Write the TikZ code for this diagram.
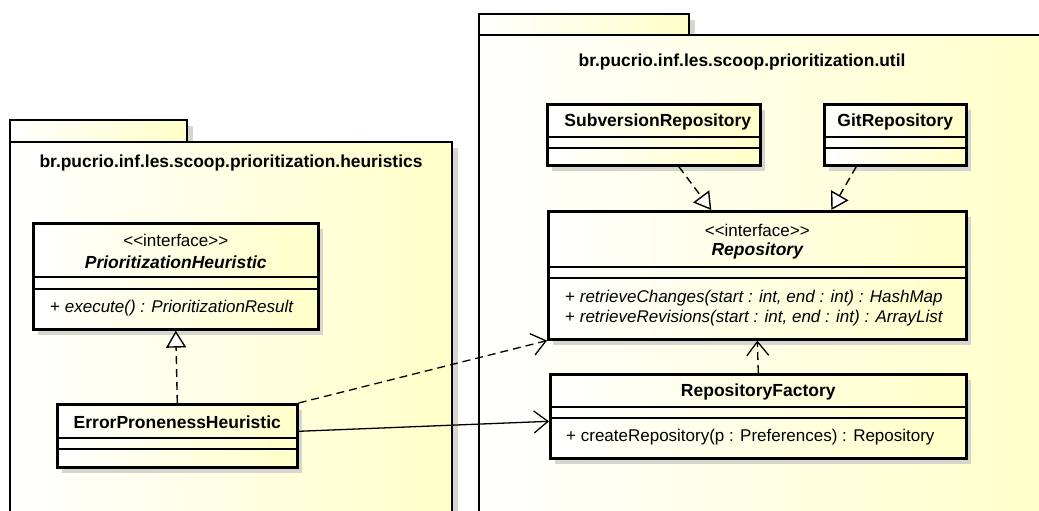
\documentclass[tikz,border=0pt]{standalone}
\usepackage{fontspec}
\setmainfont{Liberation Sans}
\usetikzlibrary{arrows.meta,shadows}
\definecolor{umlyellow}{RGB}{255,255,200}
\definecolor{shadowgray}{RGB}{214,214,206}
\tikzset{
  pkgbox/.style={draw, line width=2.2pt, left color=white, right color=umlyellow},
  pkgshadow/.style={fill=shadowgray},
  ptitle/.style={font=\fontsize{17.4}{20}\selectfont\bfseries},
  classbox/.style={draw, line width=2.6pt, left color=white, right color=umlyellow, anchor=north west, inner sep=0pt,
    drop shadow={shadow xshift=5pt, shadow yshift=-6pt, fill=shadowgray, opacity=1}},
  sepline/.style={line width=1.1pt},
  cname/.style={font=\fontsize{17.5}{20}\selectfont\bfseries},
  iname/.style={font=\fontsize{17.5}{20}\selectfont\bfseries\itshape},
  stereo/.style={font=\fontsize{17}{20}\selectfont},
  member/.style={anchor=west, inner sep=0pt, font=\fontsize{17}{20}\selectfont},
  realize/.style={line width=1.4pt, dash pattern=on 8pt off 5pt, -{Triangle[open, length=17pt, width=20pt, fill=white]}},
  depend/.style={line width=1.3pt, dash pattern=on 8pt off 5pt, -{Straight Barb[length=14pt, width=22pt]}},
  assoc/.style={line width=1.3pt, -{Straight Barb[length=14pt, width=22pt]}}
}
\begin{document}
\begin{tikzpicture}[x=1pt,y=-1pt]
  \useasboundingbox (0,0) rectangle (1039,511);
  \clip (0,0) rectangle (1039,511);
  % package heuristics
  \fill[pkgshadow] (16,126) rectangle (193,148);
  \fill[pkgshadow] (16,148) rectangle (458,540);
  \draw[pkgbox] (10,120) rectangle (187,142);
  \draw[pkgbox] (10,142) rectangle (452,540);
  \node[ptitle] (heurTitle) at (231,163) {br.pucrio.inf.les.scoop.prioritization.heuristics};
  % package util
  \fill[pkgshadow] (485,20) rectangle (695,41);
  \fill[pkgshadow] (485,41) rectangle (1070,540);
  \draw[pkgbox] (479,14) rectangle (689,35);
  \draw[pkgbox] (479,35) rectangle (1060,540);
  \node[ptitle] (utilTitle) at (742,62) {br.pucrio.inf.les.scoop.prioritization.util};
  % classes
  \node[classbox, minimum width=285pt, minimum height=106pt] (prio) at (32,222) {};
  \node[classbox, minimum width=240pt, minimum height=63pt] (err) at (56,403) {};
  \node[classbox, minimum width=213pt, minimum height=61pt] (sub) at (546,103) {};
  \node[classbox, minimum width=142pt, minimum height=61pt] (git) at (823,103) {};
  \node[classbox, minimum width=418pt, minimum height=128pt] (repo) at (547,210) {};
  \node[classbox, minimum width=416pt, minimum height=84pt] (fac) at (549,373) {};
  % compartments
  \draw[sepline] ([yshift=-55pt]prio.north west) -- ([yshift=-55pt]prio.north east);
  \draw[sepline] ([yshift=-67pt]prio.north west) -- ([yshift=-67pt]prio.north east);
  \draw[sepline] ([yshift=-35pt]err.north west) -- ([yshift=-35pt]err.north east);
  \draw[sepline] ([yshift=-46pt]err.north west) -- ([yshift=-46pt]err.north east);
  \draw[sepline] ([yshift=-34pt]sub.north west) -- ([yshift=-34pt]sub.north east);
  \draw[sepline] ([yshift=-45pt]sub.north west) -- ([yshift=-45pt]sub.north east);
  \draw[sepline] ([yshift=-34pt]git.north west) -- ([yshift=-34pt]git.north east);
  \draw[sepline] ([yshift=-45pt]git.north west) -- ([yshift=-45pt]git.north east);
  \draw[sepline] ([yshift=-57pt]repo.north west) -- ([yshift=-57pt]repo.north east);
  \draw[sepline] ([yshift=-68pt]repo.north west) -- ([yshift=-68pt]repo.north east);
  \draw[sepline] ([yshift=-34pt]fac.north west) -- ([yshift=-34pt]fac.north east);
  \draw[sepline] ([yshift=-45pt]fac.north west) -- ([yshift=-45pt]fac.north east);
  % texts
  \node[stereo] (prioSt) at ([yshift=-18pt]prio.north) {<\kern0pt<interface>\kern0pt>};
  \node[iname] (prioName) at ([yshift=-40pt]prio.north) {PrioritizationHeuristic};
  \node[member] (prioOp) at ([xshift=18pt,yshift=-86pt]prio.north west) {+ \textit{execute() : PrioritizationResult}};
  \node[cname] (errName) at ([yshift=-19pt]err.north) {ErrorPronenessHeuristic};
  \node[cname] (subName) at ([xshift=4pt,yshift=-19pt]sub.north) {SubversionRepository};
  \node[cname] (gitName) at ([yshift=-19pt]git.north) {GitRepository};
  \node[stereo] (repoSt) at ([yshift=-20pt]repo.north) {<\kern0pt<interface>\kern0pt>};
  \node[iname] (repoName) at ([yshift=-41pt]repo.north) {Repository};
  \node[member] (repoOp1) at ([xshift=18pt,yshift=-88pt]repo.north west) {+ \textit{retrieveChanges(start : int, end : int) : HashMap}};
  \node[member] (repoOp2) at ([xshift=18pt,yshift=-108pt]repo.north west) {+ \textit{retrieveRevisions(start : int, end : int) : ArrayList}};
  \node[cname] (facName) at ([yshift=-19pt]fac.north) {RepositoryFactory};
  \node[member] (facOp) at ([xshift=17pt,yshift=-64pt]fac.north west) {+ createRepository(p : Preferences) : Repository};
  % relations
  \draw[realize] (err.north) -- (prio.south);
  \draw[realize] ([xshift=25pt]sub.south) -- ([xshift=-46pt]repo.north);
  \draw[realize] ([xshift=-39pt]git.south) -- ([xshift=74pt]repo.north);
  \draw[depend] (fac.north) -- (repo.south);
  \draw[depend] (err.north east) -- (repo.south west);
  \draw[assoc] ([yshift=4.5pt]err.east) -- ([yshift=-5pt]fac.west);
\end{tikzpicture}
\end{document}
